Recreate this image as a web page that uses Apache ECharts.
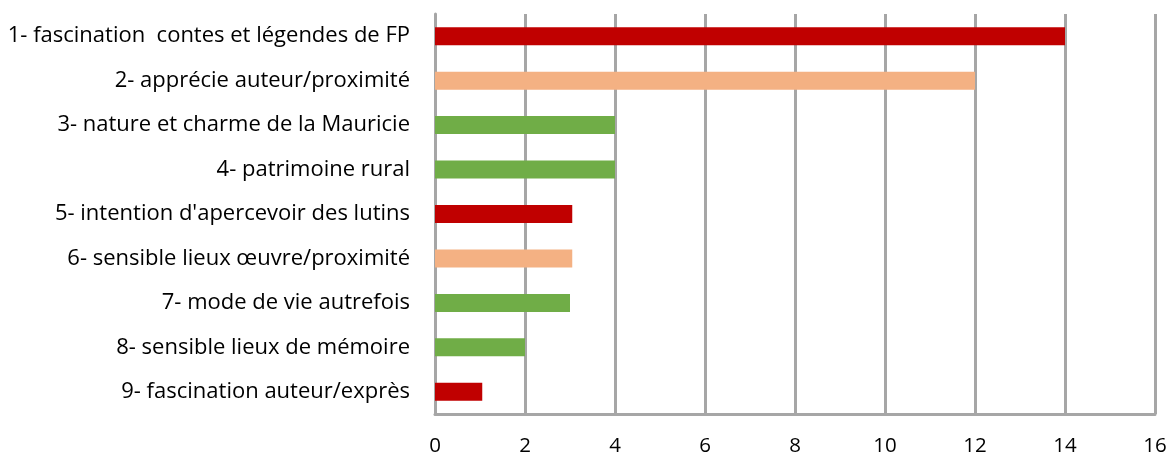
<!DOCTYPE html>
<html>
<head>
<meta charset="utf-8">
<script src="https://cdn.jsdelivr.net/npm/echarts@6/dist/echarts.min.js"></script>
<style>
  html, body { margin: 0; padding: 0; background: #fff; }
  #chart { width: 1175px; height: 457px; }
</style>
</head>
<body>
<div id="chart"></div>
<script>
// categories, top to bottom
var categories = [
  "1- fascination  contes et légendes de FP",
  "2- apprécie auteur/proximité",
  "3- nature et charme de la Mauricie",
  "4- patrimoine rural",
  "5- intention d'apercevoir des lutins",
  "6- sensible lieux œuvre/proximité",
  "7- mode de vie autrefois",
  "8- sensible lieux de mémoire",
  "9- fascination auteur/exprès"
];
var values = [14, 12, 4, 4, 3.05, 3.05, 3, 2, 1.05];
var barColors = ["#C00000", "#F4B183", "#70AD47", "#70AD47", "#C00000", "#F4B183", "#70AD47", "#70AD47", "#C00000"];
var xTicks = { min: 0, max: 16, interval: 2 };

var chart = echarts.init(document.getElementById("chart"));
chart.setOption({
  animation: false,
  textStyle: { fontFamily: "'Open Sans', sans-serif" },
  grid: { left: 435, right: 20, top: 14, bottom: 42, containLabel: false },
  xAxis: {
    type: "value",
    min: xTicks.min,
    max: xTicks.max,
    interval: xTicks.interval,
    axisLine: { show: true, lineStyle: { color: "#A6A6A6", width: 3 } },
    axisTick: { show: false },
    axisLabel: { color: "#000", fontSize: 20.5, margin: 22 },
    splitLine: { show: true, lineStyle: { color: "#A6A6A6", width: 3 } }
  },
  yAxis: {
    type: "category",
    inverse: true,
    data: categories,
    axisLine: { show: true, lineStyle: { color: "#A6A6A6", width: 3 } },
    axisTick: { show: false },
    axisLabel: { color: "#000", fontSize: 22, margin: 25 }
  },
  series: [{
    type: "bar",
    barWidth: 18,
    data: values.map(function (v, i) {
      return { value: v, itemStyle: { color: barColors[i] } };
    })
  }]
});
</script>
</body>
</html>
